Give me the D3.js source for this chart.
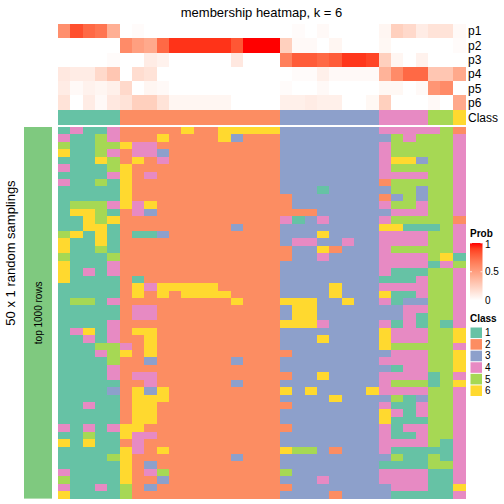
<!DOCTYPE html>
<html><head><meta charset="utf-8">
<script src="https://cdn.jsdelivr.net/npm/d3@7/dist/d3.min.js"></script>
<style>body{margin:0;background:#fff}svg{display:block}text{font-family:"Liberation Sans",Arial,Helvetica,sans-serif;fill:#000}</style>
</head><body><svg id="c" width="504" height="504"></svg>
<script>
// ---------- data ----------
const classOfColumn = [1,1,1,1,1, 2,2,2,2,2,2,2,2,2,2,2,2,2, 3,3,3,3,3,3,3,3, 4,4,4,4, 5,5, 6];
const probRowNames = ["p1","p2","p3","p4","p5","p6"];
const p1 = [0.58,0.85,0.75,0.7,0.42, 0,0.02,0,0,0,0,0,0,0,0,0,0,0, 0,0.02,0,0.03,0,0,0,0, 0.05,0.25,0.2,0.1, 0.15,0.15, 0.03];
const p2 = [0,0,0,0,0, 0.6,0.5,0.45,0.75,0.93,0.93,0.93,0.93,0.93,0.82,1,1,1, 0.25,0.03,0.03,0,0.05,0,0,0, 0.04,0,0,0, 0,0, 0.02];
const p3 = [0,0,0,0,0.02, 0,0,0.1,0.07,0,0,0,0,0,0.12,0,0,0, 0.65,0.8,0.8,0.75,0.8,0.92,0.92,0.88, 0.25,0.05,0,0.07, 0,0, 0];
const p4 = [0.12,0.1,0.1,0.2,0.3, 0,0.18,0.15,0,0,0,0,0,0,0,0,0,0, 0,0.02,0.02,0.08,0.03,0.03,0.03,0.03, 0.4,0.6,0.75,0.75, 0.3,0.3, 0.45];
const p5 = [0.1,0.03,0.07,0.05,0.08, 0.2,0,0.05,0.03,0,0,0,0,0,0,0,0,0, 0.02,0,0,0.03,0,0,0,0, 0.04,0.04,0,0.03, 0.55,0.6, 0];
const p6 = [0.15,0,0.1,0.03,0.12, 0.15,0.25,0.25,0.15,0.05,0.05,0.05,0.05,0.05,0,0,0,0, 0.08,0.08,0.1,0.08,0.08,0,0,0.04, 0.25,0,0,0, 0.03,0, 0.45];
// 50 random samplings x 33 samples, class labels per sampling
const samplingClasses = [
"14114"+"2222262266666"+"33333333"+"4444452",
"41154"+"2226222263222"+"33333333"+"3545554",
"51155"+"6442222222222"+"33333333"+"4555554",
"61154"+"2443222222222"+"33333333"+"4555554",
"11165"+"2624222222222"+"33333333"+"4663554",
"41115"+"6222222222222"+"33333333"+"4555554",
"11114"+"6242222222222"+"33333333"+"4444554",
"41151"+"6222222222222"+"33333333"+"2555554",
"11111"+"6222222222222"+"33313333"+"3553554",
"11111"+"6222222222222"+"23333333"+"2353554",
"15554"+"6462222222222"+"23333333"+"4554554",
"16651"+"2432222222222"+"22233333"+"3444554",
"11656"+"2222222222222"+"41343333"+"4555552",
"11661"+"2222222223222"+"33333333"+"6611154",
"56161"+"2113222222222"+"33363333"+"4444554",
"61161"+"2222222222222"+"34433433"+"4444554",
"61151"+"2222222222222"+"23362333"+"4555554",
"51115"+"2222222222222"+"23343333"+"4444561",
"61114"+"2222222222222"+"33333333"+"4444145",
"61414"+"2222222222222"+"33333333"+"4111554",
"61111"+"2122222222222"+"33333333"+"1114554",
"11111"+"2646666622222"+"33336333"+"4444554",
"11111"+"2626266662222"+"33336333"+"6114554",
"15514"+"2222222226222"+"66633633"+"4133554",
"11111"+"2442222222222"+"36633333"+"3344554",
"11111"+"2442222222222"+"36633333"+"3341554",
"11114"+"2222222222222"+"66643333"+"4141514",
"14614"+"2662222222222"+"33333333"+"6444556",
"11414"+"2262222222222"+"33363333"+"6444556",
"11155"+"4262222222222"+"33333333"+"6555554",
"11145"+"6262222222222"+"23333333"+"3444556",
"11115"+"2232222223222"+"33333333"+"4444556",
"11114"+"2222222222222"+"33333333"+"3144556",
"11114"+"2442222222222"+"23363333"+"4444154",
"11111"+"2242222223222"+"33333333"+"4555156",
"11113"+"2636222222222"+"63633336"+"4444554",
"11111"+"2666222222222"+"33336333"+"3513554",
"11411"+"2662222222222"+"23333333"+"4114554",
"11111"+"2662222222222"+"33333333"+"6414554",
"11111"+"2662222222222"+"33333333"+"6111554",
"41414"+"6622222222222"+"23333333"+"4144554",
"11511"+"6442222222222"+"33333333"+"4114554",
"61611"+"2422222222222"+"33333333"+"4444514",
"11111"+"6426222222222"+"65532333"+"4111114",
"11115"+"6222222223222"+"33333333"+"3511514",
"11111"+"6232222222222"+"33333333"+"1111554",
"41111"+"6245222222222"+"53333333"+"4444114",
"51111"+"6223222222222"+"33343333"+"4444114",
"41141"+"5232222222222"+"23333333"+"3444116",
"61111"+"5222222222222"+"33332333"+"3111114"
];
const classLabels = ["1","2","3","4","5","6"];
const classColors = ["#66C2A5","#FC8D62","#8DA0CB","#E78AC3","#A6D854","#FFD92F"];
const probTicks = [0, 0.5, 1];
const titleText = "membership heatmap, k = 6";
const rowTitle = "50 x 1 random samplings";
const leftAnnoText = "top 1000 rows";

// ---------- drawing ----------
const svg = d3.select("#c");
const probs = [p1,p2,p3,p4,p5,p6];
const nCol = classOfColumn.length;
const x = d3.scaleBand().domain(d3.range(nCol)).range([58, 465]);
const yTop = d3.scaleBand().domain(probRowNames).range([24, 109.6]);
const yMain = d3.scaleBand().domain(d3.range(samplingClasses.length)).range([127, 498.6]);
const probColor = d3.scaleLinear().domain([0,1]).range(["#FFFFFF","#FF0000"]).interpolate(d3.interpolateLab);
const classColor = d3.scaleOrdinal().domain(classLabels).range(classColors);

// title
svg.append("text").attr("x", 261.5).attr("y", 16.5).attr("text-anchor","middle")
  .style("font-size","13px").text(titleText);

// top probability heatmap
const gTop = svg.append("g").attr("shape-rendering","crispEdges");
probs.forEach((row, ri) => {
  gTop.selectAll(null).data(row).enter().append("rect")
    .attr("x", (d,i) => x(i)).attr("width", x.bandwidth() + 0.5)
    .attr("y", yTop(probRowNames[ri])).attr("height", yTop.bandwidth() + 0.5)
    .attr("fill", d => probColor(d));
});
// row labels
svg.selectAll(null).data(probRowNames).enter().append("text")
  .attr("x", 468).attr("y", d => yTop(d) + yTop.bandwidth()/2 + 4.3)
  .style("font-size","12px").text(d => d);

// class annotation
const classY0 = 110, classY1 = 124.5;
svg.append("g").attr("shape-rendering","crispEdges").selectAll("rect").data(classOfColumn).enter().append("rect")
  .attr("x", (d,i) => x(i)).attr("width", x.bandwidth() + 0.5)
  .attr("y", classY0).attr("height", classY1 - classY0)
  .attr("fill", d => classColor(String(d)));
svg.append("text").attr("x", 468).attr("y", (classY0+classY1)/2 + 4.3).style("font-size","12px").text("Class");

// main heatmap
const gMain = svg.append("g").attr("shape-rendering","crispEdges");
samplingClasses.forEach((s, r) => {
  gMain.selectAll(null).data(s.split("")).enter().append("rect")
    .attr("x", (d,i) => x(i)).attr("width", x.bandwidth() + 0.5)
    .attr("y", yMain(r)).attr("height", yMain.bandwidth() + 0.5)
    .attr("fill", d => classColor(d));
});

// left annotation bar
svg.append("rect").attr("x", 24).attr("y", yMain.range()[0]).attr("width", 28)
  .attr("height", yMain.range()[1] - yMain.range()[0]).attr("fill", "#7FC97F");
svg.append("text").attr("transform", `translate(41.5,${(yMain.range()[0]+yMain.range()[1])/2}) rotate(-90)`)
  .attr("text-anchor","middle").style("font-size","10px").text(leftAnnoText);
svg.append("text").attr("transform", `translate(15,253) rotate(-90)`)
  .attr("text-anchor","middle").style("font-size","13px").text(rowTitle);

// Prob legend
const lg = svg.append("g");
lg.append("text").attr("x", 470).attr("y", 236.5).style("font-size","10px").style("font-weight","bold").text("Prob");
const gy = d3.scaleLinear().domain([0,1]).range([300.5, 243]);
const grad = svg.append("defs").append("linearGradient").attr("id","pg")
  .attr("x1",0).attr("x2",0).attr("y1",1).attr("y2",0);
d3.range(0,1.0001,0.1).forEach(t => grad.append("stop").attr("offset", t).attr("stop-color", probColor(t)));
lg.append("rect").attr("x", 470).attr("y", gy(1)).attr("width", 12.5).attr("height", gy(0)-gy(1)).attr("fill","url(#pg)");
probTicks.forEach(t => {
  lg.append("line").attr("x1",470).attr("x2",472).attr("y1",gy(t)).attr("y2",gy(t)).attr("stroke","#fff").attr("stroke-width",0.8);
  lg.append("line").attr("x1",480.5).attr("x2",482.5).attr("y1",gy(t)).attr("y2",gy(t)).attr("stroke","#fff").attr("stroke-width",0.8);
  lg.append("text").attr("x", 485).attr("y", gy(t) + (t === 1 ? 5 : 3.5)).style("font-size","10px").text(String(t));
});

// Class legend
lg.append("text").attr("x", 470).attr("y", 322).style("font-size","10px").style("font-weight","bold").text("Class");
const ly = d3.scaleBand().domain(classLabels).range([327, 396.5]);
lg.selectAll(null).data(classLabels).enter().append("rect")
  .attr("x", 470.5).attr("y", d => ly(d) + 0.5).attr("width", 11.5).attr("height", ly.bandwidth() - 1)
  .attr("fill", d => classColor(d));
lg.selectAll(null).data(classLabels).enter().append("text")
  .attr("x", 485).attr("y", d => ly(d) + ly.bandwidth()/2 + 3.5).style("font-size","10px").text(d => d);
</script></body></html>
